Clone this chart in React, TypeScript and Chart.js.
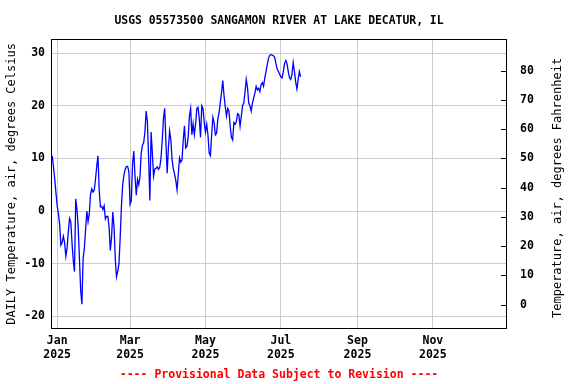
import React, { useEffect, useRef } from 'react';
import { Chart, registerables } from 'chart.js';

Chart.register(...registerables);

// Daily air temperature (°C), first value is Dec 28, 2024 (day -4 relative to Jan 1, 2025)
const START_DAY = -4;
const tempC = [
  10.5, 8.4, 6.1, 3.5,
  1.0, -0.5, -2.5, -6.5, -6, -4.8, -6, -8.6, -7, -4,
  -1.4, -2, -6, -9.4, -11.5, 2.3, 0.3, -3, -9, -15,
  -17.7, -9, -7, -3.5, 0, -2, -0.5, 3.2, 4.2, 3.6,
  4, 6, 8.5, 10.5, 4, 0.8, 0.9, 0.3, 1.0, -1.5,
  -1, -1, -3, -7.5, -5, -0.2, -3, -9, -12.5, -11.5,
  -10, -5, 1, 5, 6.8, 7.9, 8.5, 8.5, 7.5, 1.3,
  2, 9, 11.4, 6.5, 3, 6, 5, 6.5, 11, 12.5,
  13, 15, 19, 17, 10, 2, 15, 11, 6.6, 8,
  8.1, 8.4, 7.9, 8.3, 10, 13.4, 17.5, 19.5, 13, 7.2,
  12, 15.2, 13.5, 9.7, 8, 7, 5.8, 4, 7, 10.1,
  9.3, 9.7, 13.5, 16.2, 12, 12.3, 14, 18, 19.5, 14.5,
  16.6, 14.5, 16.5, 19.5, 19.7, 17.5, 14, 20, 19.5, 16.8,
  15, 16.5, 14.5, 11, 10.5, 14.5, 17.8, 16.8, 14.5, 14.8,
  17.5, 18.7, 20.6, 22.5, 24.8, 22, 19.8, 18, 19.5, 19,
  16.1, 14, 13.5, 16.8, 16.5, 17, 18.5, 18.3, 16.1, 18,
  20, 20.5, 22.6, 25, 23.5, 20.5, 20, 19, 20.5, 21.5,
  22.4, 23.7, 23, 23.3, 22.7, 24, 24.4, 23.7, 25.3, 26.5,
  27.8, 29, 29.6, 29.7, 29.6, 29.5, 29.2, 28, 27, 26.5,
  26, 25.5, 25.3, 26.5, 28, 28.6, 28, 26.5, 25.3, 25,
  26, 28.2, 26.5, 24.5, 23.2, 25, 26.5, 25.5,
];

const monthTickDays = [0, 59, 120, 181, 243, 304];
const monthTickNames = ['Jan', 'Mar', 'May', 'Jul', 'Sep', 'Nov'];
const tickYear = '2025';
const celsiusTicks = [-20, -10, 0, 10, 20, 30];
const fahrenheitTicks = [0, 10, 20, 30, 40, 50, 60, 70, 80];

const X_MIN = -5;
const X_MAX = 364;
const C_MIN = -22.4;
const C_MAX = 32.7;

const TITLE = 'USGS 05573500 SANGAMON RIVER AT LAKE DECATUR, IL';
const FOOTER = '---- Provisional Data Subject to Revision ----';
const LEFT_TITLE = 'DAILY Temperature, air, degrees Celsius';
const RIGHT_TITLE = 'Temperature, air, degrees Fahrenheit';

const MONO = '"DejaVu Sans Mono", "Liberation Mono", monospace';

const toF = (c: number) => c * 1.8 + 32;

const framePlugin = {
  id: 'frame',
  afterDraw(chart: any) {
    const { ctx, chartArea } = chart;
    const l = Math.round(chartArea.left);
    const t = Math.round(chartArea.top);
    const r = Math.round(chartArea.right);
    const b = Math.round(chartArea.bottom);
    ctx.save();
    ctx.strokeStyle = '#000';
    ctx.lineWidth = 1;
    ctx.strokeRect(l + 0.5, t + 0.5, r - l - 1, b - t - 1);
    // inner tick marks for the Fahrenheit axis
    const s = chart.scales.y2;
    ctx.beginPath();
    fahrenheitTicks.forEach((v) => {
      const y = Math.round(s.getPixelForValue(v)) + 0.5;
      ctx.moveTo(r - 6, y);
      ctx.lineTo(r, y);
    });
    ctx.stroke();
    // right axis title, reading bottom to top
    ctx.fillStyle = '#000';
    ctx.font = '12px ' + MONO;
    ctx.textAlign = 'center';
    ctx.textBaseline = 'middle';
    ctx.translate(558, (chartArea.top + chartArea.bottom) / 2 + 4);
    ctx.rotate(-Math.PI / 2);
    ctx.fillText(RIGHT_TITLE, 0, 0);
    ctx.restore();
  },
};

export default function App() {
  const ref = useRef<HTMLCanvasElement | null>(null);

  useEffect(() => {
    if (!ref.current) return;
    const points = tempC.map((v, i) => ({ x: START_DAY + i, y: v }));
    const tickFont = { family: MONO, size: 11.5, weight: 'bold' as const };
    const chart = new Chart(ref.current, {
      type: 'line',
      data: {
        datasets: [
          {
            data: points,
            borderColor: '#0000ff',
            borderWidth: 1.3,
            pointRadius: 0,
            tension: 0,
            fill: false,
            xAxisID: 'x',
            yAxisID: 'y',
          },
        ],
      },
      options: {
        animation: false,
        responsive: false,
        maintainAspectRatio: false,
        layout: { padding: 0 },
        plugins: {
          legend: { display: false },
          tooltip: { enabled: false },
          title: {
            display: true,
            fullSize: false,
            text: TITLE,
            color: '#000',
            font: { family: MONO, size: 11.4, weight: 'bold' },
            padding: { top: 14.5, bottom: 10.7 },
          },
          subtitle: {
            display: true,
            fullSize: false,
            position: 'bottom',
            text: FOOTER,
            color: '#ff0000',
            font: { family: MONO, size: 11.5, weight: 'bold' },
            padding: { top: 4, bottom: 2 },
          },
        },
        scales: {
          x: {
            type: 'linear',
            position: 'bottom',
            min: X_MIN,
            max: X_MAX,
            afterBuildTicks: (s: any) => {
              s.ticks = monthTickDays.map((v) => ({ value: v }));
            },
            afterFit: (s: any) => {
              s.height = 35.2;
            },
            ticks: {
              autoSkip: false,
              maxRotation: 0,
              color: '#000',
              font: tickFont,
              padding: 5,
              callback: (v: any) => {
                const i = monthTickDays.indexOf(Number(v));
                return i >= 0 ? [monthTickNames[i], tickYear] : '';
              },
            },
            grid: { color: '#cccccc', drawTicks: false },
            border: { display: false },
          },
          y: {
            type: 'linear',
            position: 'left',
            min: C_MIN,
            max: C_MAX,
            afterBuildTicks: (s: any) => {
              s.ticks = celsiusTicks.map((v) => ({ value: v }));
            },
            afterFit: (s: any) => {
              s.width = 51;
            },
            ticks: { color: '#000', font: tickFont, padding: 6 },
            grid: { color: '#cccccc', drawTicks: false },
            border: { display: false },
            title: {
              display: true,
              text: LEFT_TITLE,
              color: '#000',
              font: { family: MONO, size: 12 },
              padding: { top: 5, bottom: 0 },
            },
          },
          y2: {
            type: 'linear',
            position: 'right',
            min: toF(C_MIN),
            max: toF(C_MAX),
            afterBuildTicks: (s: any) => {
              s.ticks = fahrenheitTicks.map((v) => ({ value: v }));
            },
            afterFit: (s: any) => {
              s.width = 69;
            },
            ticks: { color: '#000', font: tickFont, padding: 13 },
            grid: { display: false, drawTicks: false },
            border: { display: false },
          },
        },
      },
      plugins: [framePlugin],
    } as any);
    return () => chart.destroy();
  }, []);

  return (
    <div style={{ position: 'fixed', left: 0, top: 0, width: 576, height: 384, background: '#fff' }}>
      <canvas ref={ref} width={576} height={384} style={{ display: 'block', width: 576, height: 384 }} />
    </div>
  );
}
